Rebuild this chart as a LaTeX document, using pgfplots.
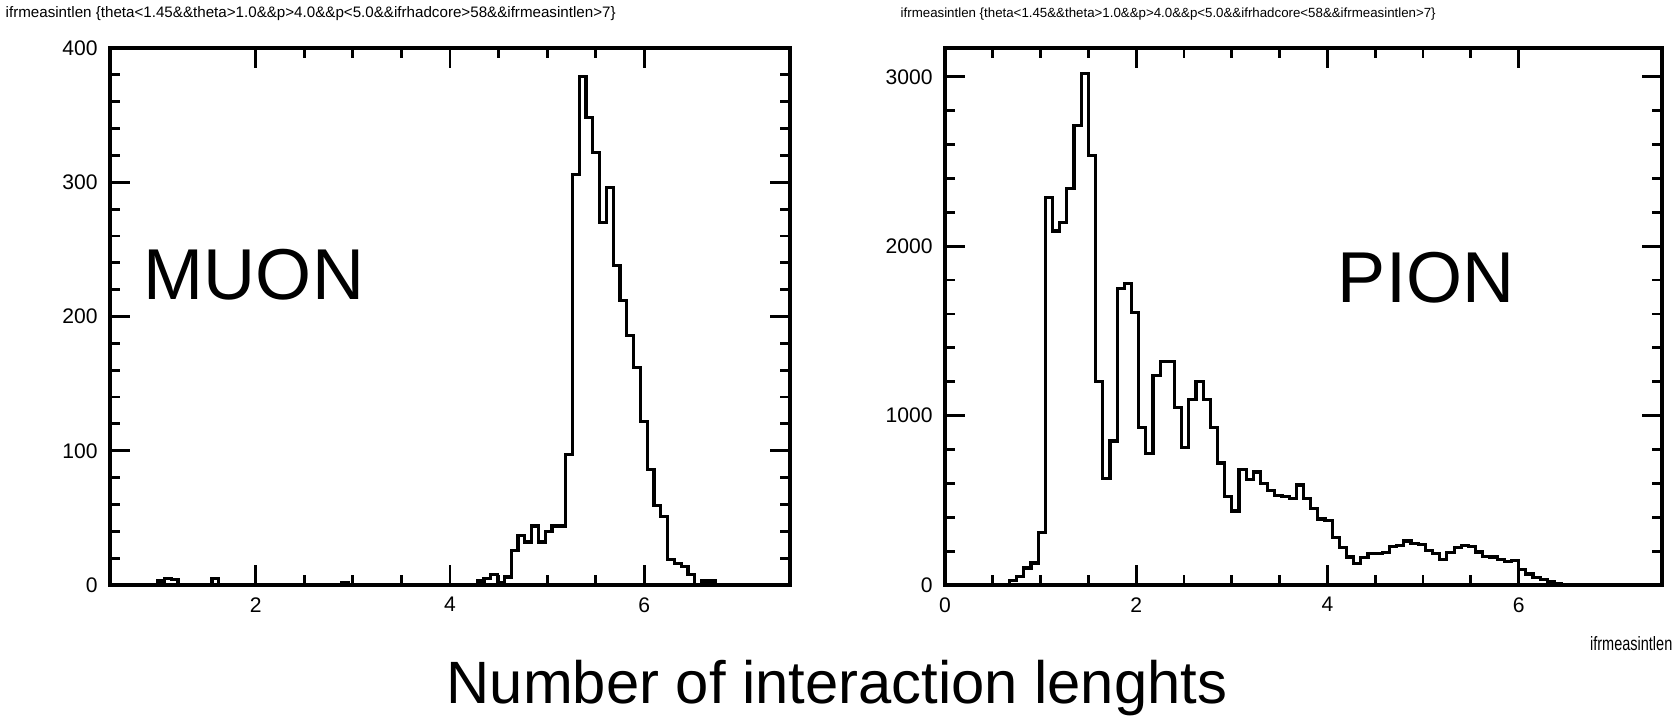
\documentclass[border=0pt]{standalone}
\usepackage{fontspec}
\setmainfont{Liberation Sans}
\usepackage{pgfplots}
\pgfplotsset{compat=1.18}

% muon: bin lower edge, entries (zero runs collapsed)
\pgfplotstableread{
x y
0.50 0
0.99 3
1.06 5
1.13 4
1.20 0
1.55 5
1.62 0
2.88 2
2.95 0
4.28 3
4.35 5
4.42 8
4.49 2
4.56 6
4.63 26
4.70 37
4.77 32
4.84 44
4.91 32
4.98 40
5.05 44
5.12 44
5.19 97
5.26 306
5.33 379
5.40 348
5.47 322
5.54 270
5.61 296
5.68 238
5.75 212
5.82 186
5.89 162
5.96 122
6.03 86
6.10 59
6.17 51
6.24 19
6.31 16
6.38 14
6.45 8
6.52 0
6.59 3
6.66 3
6.73 0
7.50 0
}\muon

% pion
\pgfplotstableread{
x y
0.000 0
0.675 25
0.750 50
0.825 100
0.900 130
0.975 310
1.050 2285
1.125 2090
1.200 2140
1.275 2340
1.350 2710
1.425 3020
1.500 2535
1.575 1200
1.650 630
1.725 850
1.800 1750
1.875 1780
1.950 1610
2.025 930
2.100 775
2.175 1235
2.250 1320
2.325 1320
2.400 1050
2.475 810
2.550 1095
2.625 1200
2.700 1095
2.775 930
2.850 720
2.925 520
3.000 437
3.075 680
3.150 625
3.225 667
3.300 600
3.375 560
3.450 530
3.525 520
3.600 510
3.675 590
3.750 510
3.825 450
3.900 390
3.975 380
4.050 280
4.125 220
4.200 165
4.275 125
4.350 160
4.425 185
4.500 185
4.575 190
4.650 225
4.725 235
4.800 260
4.875 245
4.950 240
5.025 205
5.100 185
5.175 150
5.250 190
5.325 220
5.400 232
5.475 225
5.550 195
5.625 170
5.700 165
5.775 150
5.850 140
5.925 145
6.000 90
6.075 65
6.150 45
6.225 30
6.300 20
6.375 10
6.450 5
6.525 0
7.500 0
}\pion

\pgfplotsset{rootframe/.style={
    scale only axis, anchor=south west,
    axis line style={line width=1.1pt},
    tick align=inside, tick pos=both,
    major tick length=2mm, minor tick length=1mm,
    every tick/.style={black, line width=0.8pt},
    tick label style={font=\fontsize{6}{7}\selectfont},
    /pgf/number format/assume math mode=true,
    /pgf/number format/set thousands separator={},
    scaled y ticks=false,
    minor x tick num=3,
    minor y tick num=4,
    clip=false}}

\begin{document}
\begin{tikzpicture}
\path[use as bounding box] (0,0) rectangle (16.75cm,7.16cm);

\begin{axis}[rootframe, at={(1.10cm,1.31cm)}, width=6.8cm, height=5.37cm,
    xmin=0.5, xmax=7.5, ymin=0, ymax=400,
    xtick={2,4,6}, ytick={0,100,200,300,400}]
  \addplot[black, line width=0.9pt, const plot mark left, mark=none]
      table[x=x, y=y] {\muon};
\end{axis}

\begin{axis}[rootframe, at={(9.45cm,1.31cm)}, width=7.17cm, height=5.37cm,
    xmin=0, xmax=7.5, ymin=0, ymax=3170,
    xtick={0,2,4,6}, ytick={0,1000,2000,3000}]
  \addplot[black, line width=0.9pt, const plot mark left, mark=none]
      table[x=x, y=y] {\pion};
\end{axis}

\node[anchor=base west, inner sep=0] at (0.05cm,6.98cm)
  {\resizebox{6.1cm}{!}{\fontsize{4}{5}\selectfont ifrmeasintlen \{theta<1.45\&\&theta>1.0\&\&p>4.0\&\&p<5.0\&\&ifrhadcore>58\&\&ifrmeasintlen>7\}}};
\node[anchor=base west, inner sep=0] at (9.00cm,6.98cm)
  {\resizebox{5.35cm}{!}{\fontsize{4}{5}\selectfont ifrmeasintlen \{theta<1.45\&\&theta>1.0\&\&p>4.0\&\&p<5.0\&\&ifrhadcore<58\&\&ifrmeasintlen>7\}}};

\node[inner sep=0] at (2.54cm,4.41cm) {\fontsize{20.5}{24}\selectfont MUON};
\node[inner sep=0] at (14.26cm,4.38cm) {\fontsize{20.5}{24}\selectfont PION};

\node[anchor=base, inner sep=0] at (8.37cm,0.13cm)
  {\fontsize{17}{20}\selectfont Number of interaction lenghts};
\node[anchor=base east, inner sep=0] at (16.73cm,0.66cm)
  {\scalebox{0.75}[1]{\fontsize{5.5}{6}\selectfont ifrmeasintlen}};
\end{tikzpicture}
\end{document}
